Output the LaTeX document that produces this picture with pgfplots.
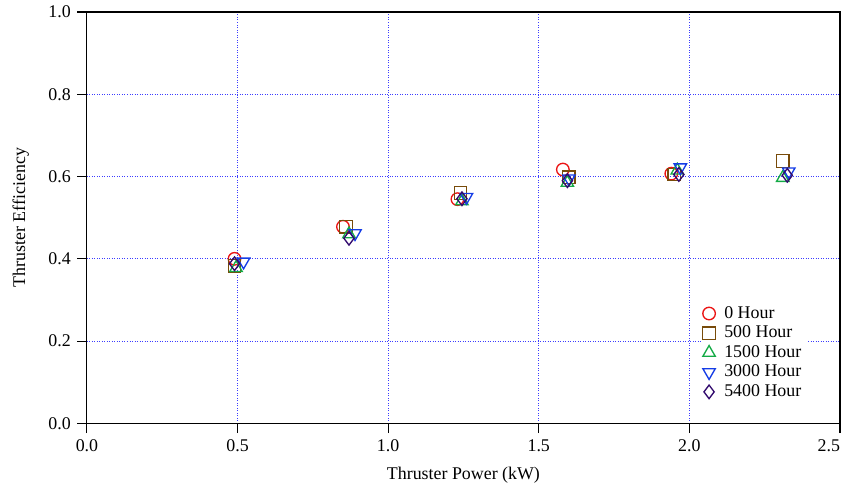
\documentclass[border=0pt]{standalone}
\usepackage{fontspec}
\setmainfont{Liberation Serif}
\usepackage{pgfplots}
\pgfplotsset{compat=1.18}
\definecolor{c0}{RGB}{235,20,20}
\definecolor{c1}{RGB}{120,75,10}
\definecolor{c2}{RGB}{20,170,70}
\definecolor{c3}{RGB}{20,60,230}
\definecolor{c4}{RGB}{50,10,110}
\definecolor{gridblue}{RGB}{60,60,255}
\begin{document}
\begin{tikzpicture}
\begin{axis}[
  scale only axis,
  width=421pt, height=230pt,
  xmin=0, xmax=2.5, ymin=0, ymax=1.0,
  xtick={0,0.5,1.0,1.5,2.0,2.5},
  xticklabels={0.0,0.5,1.0,1.5,2.0,\makebox[0pt][r]{2.5}},
  ytick={0,0.2,0.4,0.6,0.8,1.0},
  tick align=outside,
  major tick length=5.5pt,
  tick style={black, line width=0.6pt},
  axis line style={line width=0.6pt},
  xtick pos=left, ytick pos=left,
  /pgf/number format/.cd, fixed, fixed zerofill, precision=1, assume math mode=true,
  /pgfplots/.cd,
  ticklabel style={font=\fontsize{10}{12}\selectfont},
  label style={font=\fontsize{10}{12}\selectfont},
  xlabel={Thruster Power (kW)},
  ylabel={Thruster Efficiency},
  xlabel style={yshift=-2pt},
  ylabel style={yshift=4pt},
  grid=major,
  major grid style={gridblue, densely dotted, line width=0.5pt},
  legend style={at={(0.815,0.045)}, anchor=south west, draw=none, fill=white,
    font=\fontsize{10}{12}\selectfont, row sep=-1.2pt, column sep=3pt, inner sep=1pt},
  legend cell align=left,
  every axis plot/.append style={only marks, line width=0.75pt, mark size=3.5pt},
]
\addplot[c0, mark=o] coordinates {(0.49,0.400)(0.85,0.478)(1.23,0.545)(1.58,0.617)(1.94,0.607)};
\addlegendentry{0 Hour}
\addplot[c1, mark=square] coordinates {(0.49,0.383)(0.86,0.478)(1.24,0.560)(1.60,0.598)(1.95,0.605)(2.31,0.638)};
\addlegendentry{500 Hour}
\addplot[c2, mark=triangle, mark size=4pt] coordinates {(0.495,0.378)(0.87,0.460)(1.245,0.540)(1.595,0.585)(1.96,0.615)(2.31,0.597)};
\addlegendentry{1500 Hour}
\addplot[c3, mark=triangle, mark size=4pt, mark options={rotate=180}] coordinates {(0.52,0.393)(0.89,0.462)(1.26,0.550)(1.60,0.595)(1.97,0.622)(2.33,0.612)};
\addlegendentry{3000 Hour}
\addplot[c4, mark=diamond, mark size=3.8pt] coordinates {(0.49,0.388)(0.87,0.450)(1.245,0.546)(1.595,0.590)(1.965,0.605)(2.325,0.603)};
\addlegendentry{5400 Hour}
\end{axis}
\pgfresetboundingbox
\path (-48.6pt,-36.9pt) rectangle (423.8pt,236.7pt);
\end{tikzpicture}
\end{document}
